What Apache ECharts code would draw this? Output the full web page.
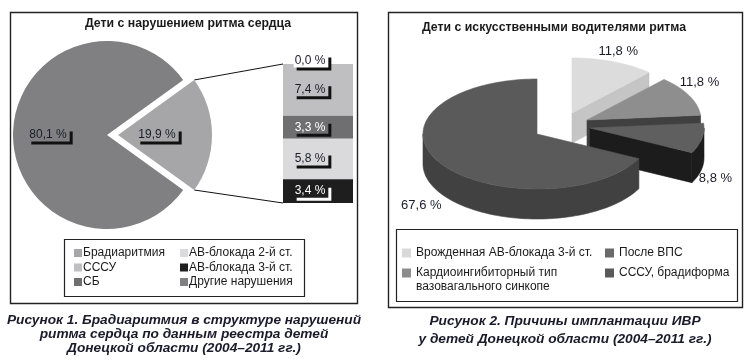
<!DOCTYPE html>
<html><head><meta charset="utf-8">
<script src="https://cdn.jsdelivr.net/npm/echarts@6/dist/echarts.min.js"></script>
<style>html,body{margin:0;padding:0;background:#fff}#c{width:750px;height:362px}</style>
</head><body><div id="c"></div>
<script>
// ---------- data: left chart ----------
const pieOtherName = 'Другие нарушения';
const pieOtherValue = 80.1;
const barCategories = ['Брадиаритмия', 'СССУ', 'СБ', 'АВ-блокада 2-й ст.', 'АВ-блокада 3-й ст.'];
const barValues = [0.0, 7.4, 3.3, 5.8, 3.4];
// ---------- data: right chart ----------
const ivrCategories = ['Врожденная АВ-блокада 3-й ст.', 'Кардиоингибиторный тип вазовагального синкопе', 'После ВПС', 'СССУ, брадиформа'];
const ivrValues = [11.8, 11.8, 8.8, 67.6];
// ---------- texts ----------
const leftTitle = 'Дети с нарушением ритма сердца';
const rightTitle = 'Дети с искусственными водителями ритма';
const leftCaption = 'Рисунок 1. Брадиаритмия в структуре нарушений\nритма сердца по данным реестра детей\nДонецкой области (2004–2011 гг.)';
const rightCaption = 'Рисунок 2. Причины имплантации ИВР\nу детей Донецкой области (2004–2011 гг.)';

// ---------- styles / layout ----------
const FONT = '"Liberation Sans", Arial, sans-serif';
const TXT = '#1b1b2b';
const fmt = v => v.toFixed(1).replace('.', ',') + ' %';
const L = {cx: 107, cy: 135, r: 94, off: 11};
const G = {left: 283, top: 64, width: 70, height: 139};
const R = {cx: 537, cy: 134, rx: 114, ry: 55, depth: 30, startAngle: 90};

const pieColors = {brad: '#a6a6a8', other: '#808082'};
const barColors = ['#a6a6a8', '#bfbfc1', '#6f6f71', '#dadadc', '#1e1e1e'];
const barTextColors = [TXT, TXT, '#ffffff', TXT, '#ffffff'];
const barShadowColors = ['#111', '#111', '#111', '#111', '#ffffff'];
const barLabelBg = ['#ffffff', '#bfbfc1', '#6f6f71', '#dadadc', '#1e1e1e'];

const ivrTop = ['#dcdcdc', '#8e8e8e', '#5f5f5f', '#5a5a5a'];
const ivrSide = ['#c5c5c5', '#404040', '#1c1c1c', '#414141'];
const ivrLegend = ['#d9d9d9', '#8c8c8c', '#6a6a6a', '#595959'];
const ivrExplode = [[35, -21], [50, -14], [53, -6], [0, 0]];
const ivrLabelNudge = [[0, 0], [-2, -8], [0, 8], [-7, 7]];

const bradTotal = barValues.reduce((a, b) => a + b, 0);
const pieTotal = bradTotal + pieOtherValue;
const ivrTotal = ivrValues.reduce((a, b) => a + b, 0);

const chart = echarts.init(document.getElementById('c'), null, {renderer: 'canvas'});
const d2r = Math.PI / 180;

function renderSlice(i) {
  return function () {
    let cum = 0;
    for (let k = 0; k < i; k++) cum += ivrValues[k];
    const a1 = R.startAngle - cum * 360 / ivrTotal;
    const a0 = a1 - ivrValues[i] * 360 / ivrTotal;
    const cx = R.cx + ivrExplode[i][0], cy = R.cy + ivrExplode[i][1], D = R.depth;
    const P = (t, dz) => [cx + R.rx * Math.cos(t * d2r), cy - R.ry * Math.sin(t * d2r) + (dz || 0)];
    const arc = (s, e, dz) => {
      const n = Math.max(2, Math.ceil(Math.abs(e - s) / 2));
      const pts = [];
      for (let k = 0; k <= n; k++) pts.push(P(s + (e - s) * k / n, dz));
      return pts;
    };
    const side = ivrSide[i], top = ivrTop[i];
    const poly = (points, fill) => ({type: 'polygon', shape: {points}, style: {fill, stroke: fill, lineWidth: 0.6}});
    const ch = [];
    const apex = [cx, cy], apexB = [cx, cy + D];
    if (Math.cos(a0 * d2r) > 1e-6) ch.push(poly([apex, P(a0), P(a0, D), apexB], side));
    if (Math.cos(a1 * d2r) < -1e-6) ch.push(poly([apex, P(a1), P(a1, D), apexB], side));
    for (let k = -2; k <= 1; k++) {
      const lo = Math.max(a0, 180 + 360 * k), hi = Math.min(a1, 360 + 360 * k);
      if (hi > lo) ch.push(poly(arc(lo, hi, 0).concat(arc(hi, lo, D)), side));
    }
    ch.push(poly([apex].concat(arc(a0, a1, 0)), top));
    const m = (a0 + a1) / 2;
    const s = Math.sin(m * d2r);
    const lx = cx + Math.cos(m * d2r) * R.rx * 1.12 + ivrLabelNudge[i][0];
    const ly = cy - s * R.ry * 1.2 + (s < 0 ? D : 0) + ivrLabelNudge[i][1];
    ch.push({type: 'text', style: {text: fmt(ivrValues[i]), x: lx, y: ly, align: 'center', verticalAlign: 'middle',
      fill: TXT, font: '13px ' + FONT}});
    return {type: 'group', children: ch};
  };
}

const barLabel = i => ({
  show: true, position: 'inside', offset: [-7, barValues[i] === 0 ? -3 : 0],
  formatter: p => fmt(p.value), fontSize: 12, fontFamily: FONT, color: barTextColors[i],
  backgroundColor: barLabelBg[i], padding: [1, 3, 0, 1],
  shadowColor: barShadowColors[i], shadowOffsetX: 3, shadowOffsetY: 3, shadowBlur: 0
});

const series = [];
series.push({
  type: 'pie', center: [L.cx, L.cy], radius: L.r,
  startAngle: bradTotal / pieTotal * 180, clockwise: true,
  selectedMode: 'single', selectedOffset: L.off, animation: false, silent: true,
  avoidLabelOverlap: false,
  label: {show: true, position: 'inside', formatter: p => fmt(p.value), fontSize: 12, fontFamily: FONT, color: TXT,
    padding: [1, 3, 0, 1], shadowColor: '#111', shadowOffsetX: 3, shadowOffsetY: 3, shadowBlur: 0},
  labelLine: {show: false},
  labelLayout: p => ({dx: p.dataIndex === 0 ? -10 : -8}),
  data: [
    {name: barCategories[0], value: bradTotal, selected: true, itemStyle: {color: pieColors.brad}, label: {backgroundColor: pieColors.brad}},
    {name: pieOtherName, value: pieOtherValue, itemStyle: {color: pieColors.other}, label: {backgroundColor: pieColors.other}}
  ]
});
barValues.forEach((v, i) => {
  series.push({type: 'bar', name: barCategories[i], stack: 's', barWidth: '100%', data: [v],
    itemStyle: {color: barColors[i]}, label: barLabel(i), animation: false, silent: true});
});
ivrValues.forEach((v, i) => {
  series.push({type: 'custom', name: ivrCategories[i], coordinateSystem: 'none', data: [v],
    itemStyle: {color: ivrLegend[i]}, renderItem: renderSlice(i), animation: false, silent: true});
});

// connector lines from exploded slice edges to the bar stack
const half = bradTotal / pieTotal * 180;
const scx = L.cx + L.off;
const eTop = [scx + L.r * Math.cos(half * d2r), L.cy - L.r * Math.sin(half * d2r)];
const eBot = [scx + L.r * Math.cos(half * d2r), L.cy + L.r * Math.sin(half * d2r)];

const legendBase = {orient: 'vertical', icon: 'rect', padding: 0, selectedMode: false, itemWidth: 8, itemHeight: 8,
  textStyle: {fontSize: 12, lineHeight: 14, fontFamily: FONT, color: '#1a1a1a'}};
const tightText = Object.assign({}, legendBase.textStyle, {padding: [0, 0, 0, -4]});

chart.setOption({
  animation: false,
  grid: {left: G.left, top: G.top, width: G.width, height: G.height},
  xAxis: {type: 'category', data: ['x'], show: false},
  yAxis: {type: 'value', inverse: true, min: 0, max: bradTotal, show: false},
  legend: [
    Object.assign({}, legendBase, {data: barCategories.slice(0, 3), left: 74, top: 246, itemGap: 0.5, textStyle: tightText}),
    Object.assign({}, legendBase, {data: [barCategories[3], barCategories[4], pieOtherName], left: 180, top: 246, itemGap: 0.5, textStyle: tightText}),
    Object.assign({}, legendBase, {data: [ivrCategories[0]], left: 402, top: 246, itemWidth: 9, itemHeight: 9}),
    Object.assign({}, legendBase, {data: [ivrCategories[1]], left: 402, top: 252, itemWidth: 9, itemHeight: 9,
      formatter: n => '\n' + n.replace(' тип ', ' тип\n')}),
    Object.assign({}, legendBase, {data: [ivrCategories[2], ivrCategories[3]], left: 605, top: 246, itemGap: 6, itemWidth: 9, itemHeight: 9})
  ],
  graphic: [
    {type: 'rect', shape: {x: 10.5, y: 12.5, width: 347, height: 291}, style: {fill: 'none', stroke: '#222', lineWidth: 1.4}, silent: true},
    {type: 'rect', shape: {x: 388.5, y: 12.5, width: 354, height: 295}, style: {fill: 'none', stroke: '#222', lineWidth: 1.4}, silent: true},
    {type: 'rect', shape: {x: 64.5, y: 239.5, width: 240, height: 57}, style: {fill: 'none', stroke: '#222', lineWidth: 1.2}, silent: true},
    {type: 'rect', shape: {x: 396.5, y: 229.5, width: 341, height: 72}, style: {fill: 'none', stroke: '#222', lineWidth: 1.2}, silent: true},
    {type: 'line', shape: {x1: eTop[0], y1: eTop[1], x2: G.left, y2: G.top}, style: {stroke: '#111', lineWidth: 1}, silent: true},
    {type: 'line', shape: {x1: eBot[0], y1: eBot[1], x2: G.left, y2: G.top + G.height}, style: {stroke: '#111', lineWidth: 1}, silent: true},
    {type: 'text', x: 188, y: 24, style: {text: leftTitle, align: 'center', verticalAlign: 'middle', fill: '#1a1a1a', font: 'bold 12.3px ' + FONT}, silent: true},
    {type: 'text', x: 554, y: 28, style: {text: rightTitle, align: 'center', verticalAlign: 'middle', fill: '#1a1a1a', font: 'bold 12.3px ' + FONT}, silent: true},
    {type: 'text', x: 184, y: 334, style: {text: leftCaption, align: 'center', verticalAlign: 'middle', lineHeight: 14, fill: '#1a1a2a', font: 'italic bold 13.7px ' + FONT}, silent: true},
    {type: 'text', x: 565, y: 330, style: {text: rightCaption, align: 'center', verticalAlign: 'middle', lineHeight: 18, fill: '#1a1a2a', font: 'italic bold 13.7px ' + FONT}, silent: true}
  ],
  series: series
});
</script></body></html>
